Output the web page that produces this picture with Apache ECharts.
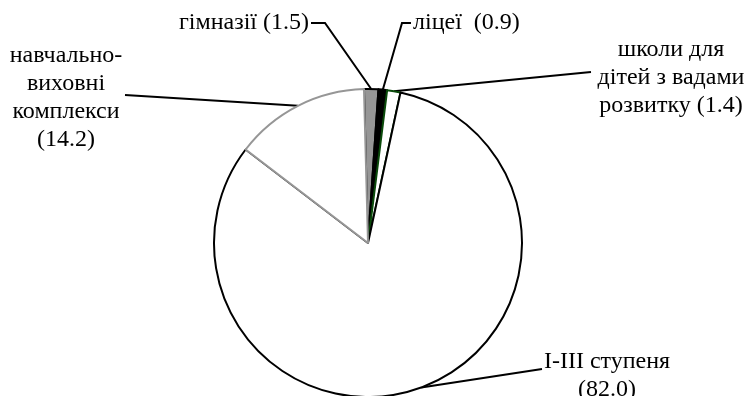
<!DOCTYPE html>
<html>
<head>
<meta charset="utf-8">
<script src="https://cdn.jsdelivr.net/npm/echarts@6/dist/echarts.min.js"></script>
<style>
  html, body { margin: 0; padding: 0; background: #fff; }
  #chart { width: 751px; height: 396px; }
</style>
</head>
<body>
<div id="chart"></div>
<script>
// категорії шкіл (частка, %)
var categories = ['гімназії', 'ліцеї', 'школи для\nдітей з вадами\nрозвитку', 'I-III ступеня', 'навчально-\nвиховні\nкомплекси'];
var values = [1.5, 0.9, 1.4, 82.0, 14.2];
var valueSep = [' ', '  ', ' ', '\n', '\n'];  // що між назвою і (значенням)

// оформлення секторів
var fills = ['#969696', '#000000', '#ffffff', '#ffffff', '#ffffff'];
var borders = ['#000000', '#000000', '#0a4a0a', '#000000', '#969696'];

// де стоять підписи: [x, y, align, кінець лінії x, y, злам x, y]
var labelPos = [
  [309, 23, 'right', 311, 23, 325, 23],
  [413, 23, 'left', 411, 23, 402, 23],
  [671, 78, 'center', 591, 72, 591, 72],
  [607, 376, 'center', 542, 369, 542, 369],
  [66, 98, 'center', 125, 95, 125, 95]
];

var cx = 368, cy = 243, R = 154, startAngle = 91.5;

var chart = echarts.init(document.getElementById('chart'), null, { renderer: 'canvas' });

var data = categories.map(function (name, i) {
  return {
    name: name,
    value: values[i],
    itemStyle: { color: fills[i], borderColor: borders[i], borderWidth: 2 }
  };
});

function arcPoint(idx) {
  // запасний варіант, якщо бібліотека не дала точок лінії
  var total = values.reduce(function (a, b) { return a + b; }, 0);
  var before = 0;
  for (var i = 0; i < idx; i++) before += values[i];
  var mid = (startAngle - (before + values[idx] / 2) / total * 360) * Math.PI / 180;
  return [cx + R * Math.cos(mid), cy - R * Math.sin(mid)];
}

var option = {
  animation: false,
  series: [{
    type: 'pie',
    center: [cx, cy],
    radius: R,
    startAngle: startAngle,
    clockwise: true,
    avoidLabelOverlap: false,
    minShowLabelAngle: 0,
    emphasis: { disabled: true },
    data: data,
    label: {
      show: true,
      position: 'outside',
      fontFamily: 'Liberation Serif',
      fontSize: 24,
      lineHeight: 28,
      color: '#000',
      formatter: function (p) {
        return p.name + valueSep[p.dataIndex] + '(' + p.value.toFixed(1) + ')';
      }
    },
    labelLine: {
      show: true,
      lineStyle: { color: '#000', width: 2 }
    },
    labelLayout: function (params) {
      var lp = labelPos[params.dataIndex];
      var start = (params.labelLinePoints && params.labelLinePoints[0]) || arcPoint(params.dataIndex);
      return {
        x: lp[0],
        y: lp[1],
        align: lp[2],
        verticalAlign: 'middle',
        labelLinePoints: [start, [lp[5], lp[6]], [lp[3], lp[4]]]
      };
    }
  }]
};

chart.setOption(option);
</script>
</body>
</html>
